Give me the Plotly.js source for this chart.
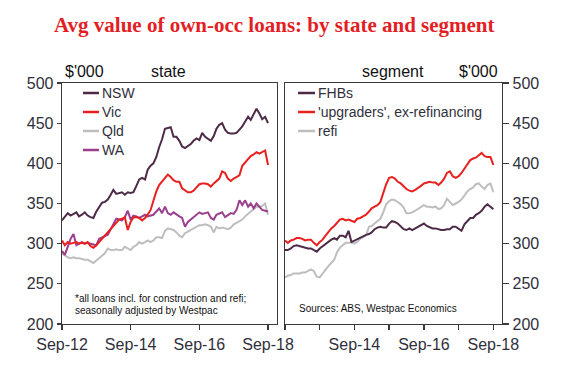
<!DOCTYPE html>
<html><head><meta charset="utf-8">
<script src="https://cdn.plot.ly/plotly-3.0.1.min.js"></script>
<style>body{margin:0;background:#fff}#chart{width:562px;height:369px}</style>
</head><body><div id="chart"></div>
<script>
// Monthly data, Sep-2012 .. Sep-2018 ($'000)
const firstYear = 2012, firstMonth = 9;
const nsw = [329,334,338,335,337,339,334,336,339,335,333,332,340,345,351,352,355,361,367,362,363,364,361,364,363,364,372,380,382,380,392,397,400,408,420,430,443,444,445,433,433,428,421,419,421,424,428,431,429,438,433,430,428,434,443,448,450,442,438,437,437,438,442,446,452,458,454,461,468,462,455,458,450];
const vic = [304,298,302,300,301,302,300,301,300,302,297,295,298,302,306,310,315,319,323,327,330,331,333,317,327,333,333,332,329,332,336,342,354,365,373,377,381,386,383,379,377,377,369,366,364,364,366,370,374,375,375,374,371,375,378,381,390,388,381,378,381,383,385,397,401,406,409,411,414,412,414,416,398];
const qld = [288,285,283,282,283,282,282,281,280,280,278,276,279,282,286,288,294,292,292,293,292,292,296,294,292,296,298,302,300,302,304,302,304,308,308,307,316,319,318,317,314,310,308,313,315,317,319,320,323,323,324,323,321,314,321,319,320,319,318,320,324,326,328,330,334,337,340,343,346,346,347,350,336];
const wa = [291,286,296,306,312,298,300,302,300,301,300,299,298,306,308,309,311,318,325,331,330,329,333,341,330,335,334,332,334,336,334,335,336,340,344,338,346,338,336,339,336,334,332,321,327,330,334,337,339,337,338,339,332,330,336,338,339,333,335,338,337,342,354,348,354,346,350,344,350,346,342,341,340];
const fhb = [292,292,294,297,298,297,296,295,294,294,292,290,294,297,299,302,305,307,305,310,310,308,316,302,304,305,307,309,311,312,314,318,320,321,320,320,325,328,327,325,321,318,317,319,317,319,320,322,325,322,320,319,319,318,317,317,318,318,321,321,318,316,324,328,332,332,336,338,341,346,349,346,343];
const upgraders = [304,301,304,305,307,307,306,304,305,305,301,298,302,305,310,315,319,322,326,330,331,329,330,328,327,331,332,334,336,340,344,346,348,352,363,374,382,383,381,377,375,371,368,366,365,367,369,372,375,376,377,376,376,373,376,381,388,390,384,382,384,388,393,399,404,406,407,410,413,409,408,408,398];
const refi = [258,260,261,263,263,263,264,264,266,268,266,259,258,263,268,272,276,280,289,295,298,301,301,302,300,302,306,308,310,321,322,325,328,331,339,349,353,355,354,352,349,345,338,338,339,341,343,345,348,346,346,345,346,343,344,348,356,352,348,350,352,355,360,365,368,370,374,375,371,368,373,375,364];

const leftTickVals = ['2012-09-01','2014-09-01','2016-09-01','2018-09-01'];
const leftTickText = ['Sep-12','Sep-14','Sep-16','Sep-18'];
const rightTickVals = ['2012-09-01','2013-09-01','2014-09-01','2015-09-01','2016-09-01','2017-09-01','2018-09-01'];
const rightTickText = ['','','Sep-14','','Sep-16','','Sep-18'];
const yTickVals = [200,250,300,350,400,450,500];

function monthDates(n){
  const out=[];
  for(let i=0;i<n;i++){
    const t=(firstMonth-1)+i;
    const y=firstYear+Math.floor(t/12), m=t%12+1;
    out.push(y+'-'+String(m).padStart(2,'0')+'-01');
  }
  return out;
}
const dates = monthDates(nsw.length);

const C = {nsw:'#4D2B47', vic:'#E8201F', qld:'#BEBEBE', wa:'#9A3F8E', fhb:'#4D2B47', upg:'#E8201F', refi:'#BEBEBE'};
const LW = 2;

function tr(y, name, color, xa, ya){
  return {x: dates, y: y, name: name, type:'scatter', mode:'lines', xaxis: xa, yaxis: ya,
          line:{color: color, width: LW}, showlegend:false, hoverinfo:'skip'};
}
const data = [
  tr(qld,'Qld',C.qld,'x','y'),
  tr(wa,'WA',C.wa,'x','y'),
  tr(vic,'Vic',C.vic,'x','y'),
  tr(nsw,'NSW',C.nsw,'x','y'),
  tr(refi,'refi',C.refi,'x2','y2'),
  tr(upgraders,"'upgraders', ex-refinancing",C.upg,'x2','y2'),
  tr(fhb,'FHBs',C.fhb,'x2','y2')
];

const W=562, H=369;
const px = x => x/W, py = y => 1 - y/H;
const axisColor = '#3A3A3A';
const tickFont = {family:'Liberation Sans, Arial, sans-serif', size:16, color:'#30303C'};
const xRange = ['2012-09-01','2018-12-01'];

const legL = [['NSW',C.nsw,93],['Vic',C.vic,112],['Qld',C.qld,131],['WA',C.wa,150]];
const legR = [['FHBs',C.fhb,93],["'upgraders', ex-refinancing",C.upg,112],['refi',C.refi,131]];
const shapes = [], annotations = [];
legL.forEach(([t,c,y])=>{
  shapes.push({type:'line',xref:'paper',yref:'paper',x0:px(83),x1:px(99),y0:py(y),y1:py(y),line:{color:c,width:2.5}});
  annotations.push({text:t,xref:'paper',yref:'paper',x:px(99.5),y:py(y),xanchor:'left',yanchor:'middle',showarrow:false,
    font:{family:'Liberation Sans, Arial, sans-serif',size:14,color:'#30303C'}});
});
legR.forEach(([t,c,y])=>{
  shapes.push({type:'line',xref:'paper',yref:'paper',x0:px(298),x1:px(315),y0:py(y),y1:py(y),line:{color:c,width:2.5}});
  annotations.push({text:t,xref:'paper',yref:'paper',x:px(315.5),y:py(y),xanchor:'left',yanchor:'middle',showarrow:false,
    font:{family:'Liberation Sans, Arial, sans-serif',size:14,color:'#30303C'}});
});
const lab = (text,x,y,anchor,size)=>({text:text,xref:'paper',yref:'paper',x:px(x),y:py(y),xanchor:anchor,yanchor:'middle',showarrow:false,
    font:{family:'Liberation Sans, Arial, sans-serif',size:size,color:'#111111'}});
annotations.push(lab("$'000",63,72,'left',16));
annotations.push(lab('state',168,72,'center',16));
annotations.push(lab('segment',393,72,'center',16));
annotations.push(lab("$'000",500,72,'right',16));
annotations.push(lab('*all loans incl. for construction and refi;',73,298,'left',10));
annotations.push(lab('seasonally adjusted by Westpac',73,310,'left',10));
annotations.push(lab('Sources: ABS, Westpac Economics',297,308,'left',10));

const layout = {
  width:W, height:H, margin:{l:0,r:0,t:0,b:0},
  paper_bgcolor:'#ffffff', plot_bgcolor:'#ffffff',
  title:{text:'Avg value of own-occ loans: by state and segment', x:0.488, xanchor:'center', y:1-25/H, yanchor:'middle', yref:'container',
         font:{family:'Liberation Serif, Times New Roman, serif', size:21, color:'#E31E24', weight:'bold'}},
  xaxis:{domain:[px(62),px(276.6)], type:'date', range:xRange, tickvals:leftTickVals, ticktext:leftTickText,
         ticks:'outside', ticklen:5, tickcolor:axisColor, tickwidth:1.3, showline:true, linecolor:axisColor, linewidth:1.3, mirror:true,
         showgrid:false, zeroline:false, tickfont:tickFont, anchor:'y', fixedrange:true},
  yaxis:{domain:[py(324),py(83)], range:[200,500], tickvals:yTickVals, ticks:'outside', ticklen:4, tickcolor:axisColor, tickwidth:1.3,
         showline:true, linecolor:axisColor, linewidth:1.3, mirror:true, showgrid:false, zeroline:false, tickfont:tickFont, anchor:'x', fixedrange:true},
  xaxis2:{domain:[px(285),px(502)], type:'date', range:xRange, tickvals:rightTickVals, ticktext:rightTickText,
         ticks:'outside', ticklen:5, tickcolor:axisColor, tickwidth:1.3, showline:true, linecolor:axisColor, linewidth:1.3, mirror:true,
         showgrid:false, zeroline:false, tickfont:tickFont, anchor:'y2', fixedrange:true},
  yaxis2:{domain:[py(324),py(83)], range:[200,500], tickvals:yTickVals, side:'right', ticks:'outside', ticklen:6, tickcolor:axisColor, tickwidth:1.3,
         showline:true, linecolor:axisColor, linewidth:1.3, mirror:true, showgrid:false, zeroline:false, tickfont:tickFont, anchor:'x2', fixedrange:true},
  shapes:shapes, annotations:annotations, showlegend:false
};
Plotly.newPlot('chart', data, layout, {displayModeBar:false, staticPlot:true});
</script></body></html>
